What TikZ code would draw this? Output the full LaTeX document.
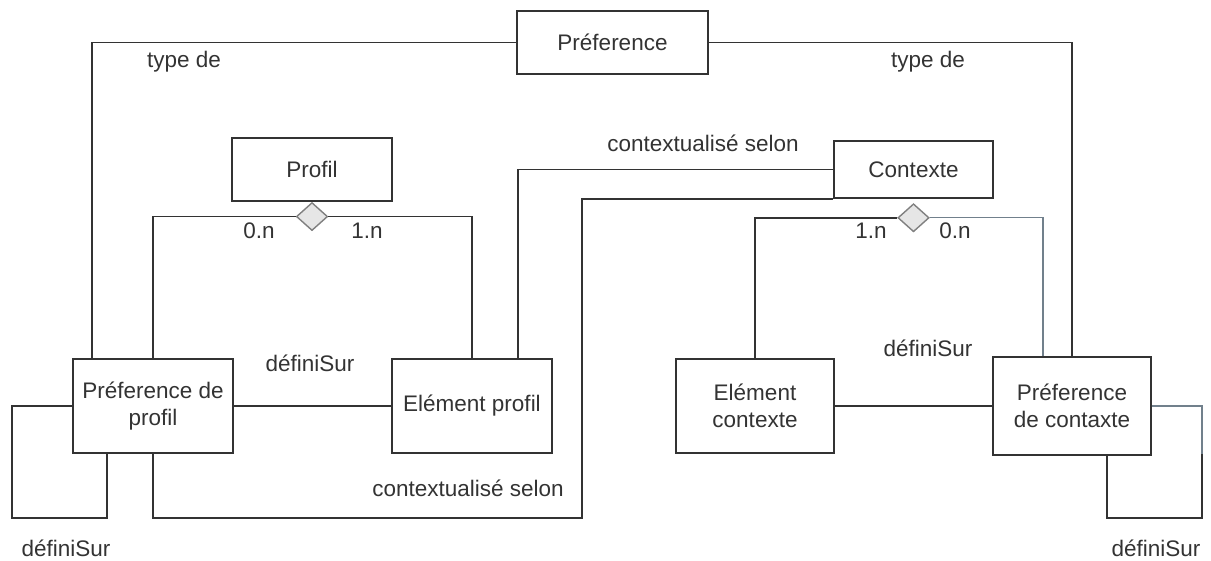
\documentclass[tikz,border=0pt]{standalone}
\usepackage{fontspec}
\setmainfont{Liberation Sans}
\usetikzlibrary{positioning,shapes.geometric,shadows}
\definecolor{linecol}{HTML}{333333}
\definecolor{bluecol}{HTML}{71808C}
\definecolor{relfill}{HTML}{E6E6E6}
\begin{document}
\begin{tikzpicture}[x=0.025cm,y=-0.025cm,
		every node/.style={font=\fontsize{16}{19}\selectfont,text=linecol},
		mybox/.style={draw=linecol,line width=1.2pt,fill=white,align=center,inner sep=0pt,
			minimum width=4cm,minimum height=2.35cm,
			drop shadow={shadow xshift=0.7pt,shadow yshift=-0.7pt,opacity=0.2}},
		mydiamond/.style={diamond,draw=gray,line width=1pt,fill=relfill,inner sep=0pt,
			minimum width=0.78cm,minimum height=0.7cm},
		conn/.style={draw=linecol,line width=1.3pt},
		bluestyle/.style={draw=bluecol,line width=0.9pt}]
		
		\useasboundingbox (0,0) rectangle (1211,560);
		
		\node[mybox,minimum width=4.775cm,minimum height=1.575cm] (pref) at (612.5,42.5) {Préference};
		\node[mybox,minimum height=1.575cm] (profil) at (312,169.5) {Profil};
		\node[mybox,minimum width=3.975cm,minimum height=1.425cm] (contexte) at (913.5,169.5) {Contexte};
		\node[mybox] (prefprof) at (153,406) {Préference de\\profil};
		\node[mybox] (eltprof) at (472,406) {Elément profil};
		\node[mybox,minimum width=3.95cm] (eltctx) at (755,406) {Elément\\contexte};
		\node[mybox,minimum width=3.95cm,minimum height=2.45cm] (prefctx) at (1072,406) {Préference\\de contaxte};
		
		\node[mydiamond,below=0pt of profil] (dprof) {};
		\node[mydiamond,below=3pt of contexte] (dctx) {};
		
		\coordinate (turn) at (582,518);
		\coordinate (loopl) at (12,518);
		\coordinate (loopr) at (1202,518);
		
		% type de
		\draw[conn] (pref.west) -| ([xshift=0.5cm]prefprof.north west);
		\draw[conn] (pref.east) -| (prefctx.north);
		\node (typel) at (184,62) {type de};
		\node (typer) at (928,62) {type de};
		
		% profil
		\draw[conn] (dprof.west) -| (prefprof.north);
		\draw[conn] (dprof.east) -| (eltprof.north);
		\node (cardpa) at (259,231) {0.n};
		\node (cardpb) at (367,231) {1.n};
		
		% contexte
		\draw[conn] (dctx.west) -| (eltctx.north);
		\draw[bluestyle] (dctx.east) -| ([xshift=-0.725cm]prefctx.north);
		\node (cardca) at (871,231) {1.n};
		\node (cardcb) at (955,231) {0.n};
		
		% contextualise selon
		\draw[conn] (contexte.west) -| ([xshift=1.15cm]eltprof.north);
		\draw[conn] (contexte.south west) -| (turn) -| (prefprof.south);
		\node (ctxa) at (703,143) {contextualisé selon};
		\node (ctxb) at (468,488) {contextualisé selon};
		
		% definiSur
		\draw[conn] (prefprof) -- (eltprof);
		\draw[conn] (eltctx) -- (prefctx);
		\draw[conn] (prefprof.west) -| (loopl) -| ([xshift=-1.15cm]prefprof.south);
		\draw[bluestyle] (prefctx.east) -| ([yshift=-1.2cm]prefctx.east -| loopr);
		\draw[conn] ([yshift=-1.2cm]prefctx.east -| loopr) -- (loopr) -| ([xshift=0.875cm]prefctx.south);
		\node (defa) at (310,363) {définiSur};
		\node (defb) at (928,348) {définiSur};
		\node (defc) at (66,548) {définiSur};
		\node (defd) at (1156,548) {définiSur};
		\end{tikzpicture}
\end{document}
